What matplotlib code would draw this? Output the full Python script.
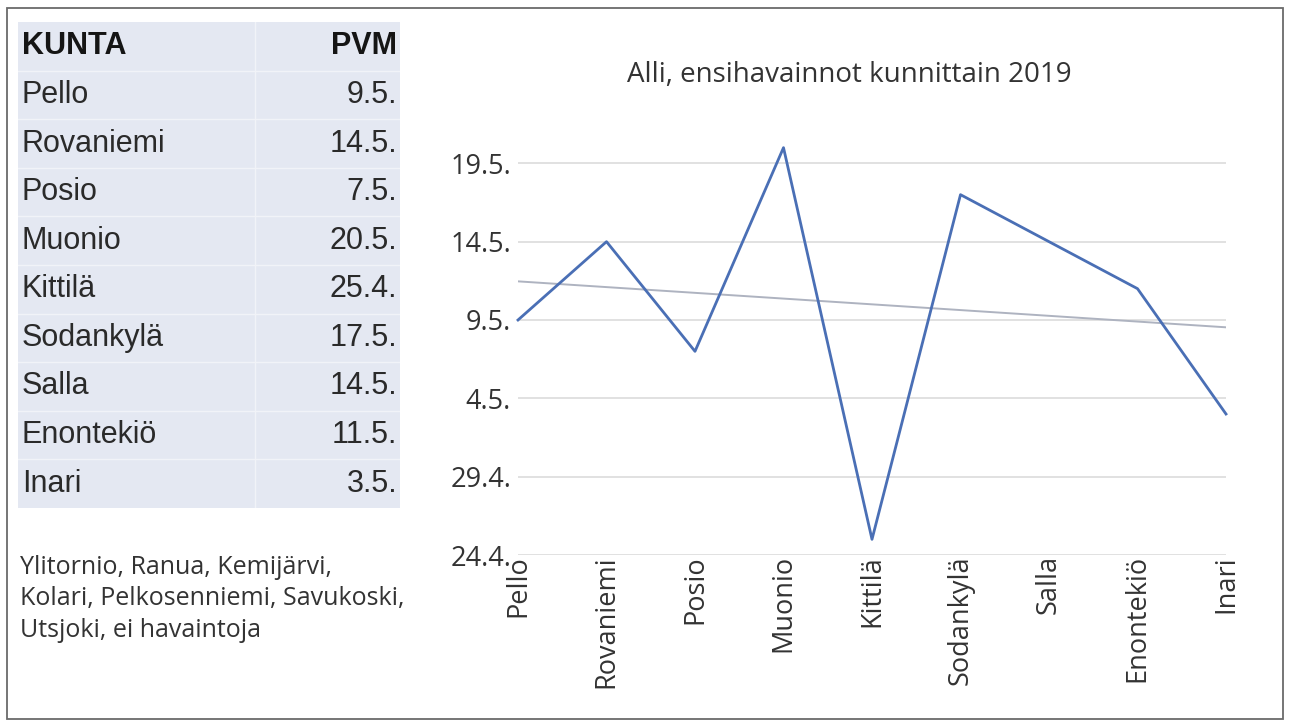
import datetime as dt
import numpy as np
import matplotlib
matplotlib.use("Agg")
import matplotlib.pyplot as plt
from matplotlib.ticker import FuncFormatter, FixedLocator
from matplotlib.patches import Rectangle

# ---- data ----
kunnat = ["Pello", "Rovaniemi", "Posio", "Muonio", "Kittilä",
          "Sodankylä", "Salla", "Enontekiö", "Inari"]
pvm = ["9.5.", "14.5.", "7.5.", "20.5.", "25.4.", "17.5.", "14.5.", "11.5.", "3.5."]
vuosi = 2019
y_tick_pvm = ["24.4.", "29.4.", "4.5.", "9.5.", "14.5.", "19.5."]
otsikko = "Alli, ensihavainnot kunnittain 2019"
huomautus = "Ylitornio, Ranua, Kemijärvi,\nKolari, Pelkosenniemi, Savukoski,\nUtsjoki, ei havaintoja"
header = ["KUNTA", "PVM"]


def to_day(s):
    d, m = [int(p) for p in s.strip(".").split(".")]
    return dt.date(vuosi, m, d).toordinal()


def fmt_day(v, pos=None):
    d = dt.date.fromordinal(int(round(v)))
    return f"{d.day}.{d.month}."


days = np.array([to_day(s) for s in pvm])
tick_days = [to_day(s) for s in y_tick_pvm]

W, H = 1290, 722
fig = plt.figure(figsize=(W / 100, H / 100), dpi=100)
fig.patch.set_facecolor("white")


def box(x0, y0, x1, y1):
    return [x0 / W, 1 - y1 / H, (x1 - x0) / W, (y1 - y0) / H]


# outer border
fig.patches.append(Rectangle((7 / W, 1 - 719 / H), (1283 - 7) / W, (719 - 8) / H,
                             transform=fig.transFigure, fill=False,
                             ec="#6a6a6a", lw=1.3))

# ---- table ----
TF = "Liberation Sans"
tab = fig.add_axes(box(18, 22, 400, 508))
tab.set_facecolor("#e4e8f2")
n_rows = len(kunnat) + 1
tab.set_xlim(0, 382)
tab.set_ylim(n_rows, 0)
tab.set_xticks([])
tab.set_yticks([])
for sp in tab.spines.values():
    sp.set_visible(False)
for i in range(1, n_rows):
    tab.axhline(i, color="#f1f3f8", lw=1.0)
tab.axvline(237, color="#f1f3f8", lw=1.0)
tfs = 22
tab.text(4, 0.5, header[0], ha="left", va="center", fontsize=tfs,
         fontweight="bold", family=TF, color="#151515")
tab.text(379, 0.5, header[1], ha="right", va="center", fontsize=tfs,
         fontweight="bold", family=TF, color="#151515")
for i, (k, p) in enumerate(zip(kunnat, pvm)):
    tab.text(4, i + 1.5, k, ha="left", va="center", fontsize=tfs,
             family=TF, color="#2a2a2a")
    tab.text(379, i + 1.5, p, ha="right", va="center", fontsize=tfs,
             family=TF, color="#2a2a2a")

# ---- footnote ----
CF = "Open Sans"
fig.text(20 / W, 1 - 555 / H, huomautus, ha="left", va="top", fontsize=18,
         family=CF, color="#333333", linespacing=1.33)

# ---- chart ----
ax = fig.add_axes(box(518, 132, 1226, 555))
x = np.arange(len(kunnat))
ax.plot(x, days, color="#4a6fb5", lw=2.0, clip_on=False, zorder=3)
coef = np.polyfit(x, days, 1)
ax.plot(x, np.polyval(coef, x), color="#aeb3c0", lw=1.4, zorder=2)

ax.set_xlim(0, len(kunnat) - 1)
ax.set_ylim(tick_days[0], tick_days[0] + 27)
ax.yaxis.set_major_locator(FixedLocator(tick_days))
ax.yaxis.set_major_formatter(FuncFormatter(fmt_day))
ax.set_xticks(x)
ax.set_xticklabels(kunnat, rotation=90, va="top", ha="center")
for sp in ax.spines.values():
    sp.set_visible(False)
ax.yaxis.grid(True, color="#dcdcdc", lw=1.2)
ax.set_axisbelow(True)
ax.tick_params(axis="both", length=0, colors="#333333", labelsize=19.5)
ax.tick_params(axis="y", pad=5)
ax.tick_params(axis="x", pad=0)
for lab in ax.get_xticklabels() + ax.get_yticklabels():
    lab.set_family(CF)

fig.text(849 / W, 1 - 75 / H, otsikko, ha="center", va="center",
         fontsize=20, family=CF, color="#333333")

fig.savefig("out.png", dpi=100)
